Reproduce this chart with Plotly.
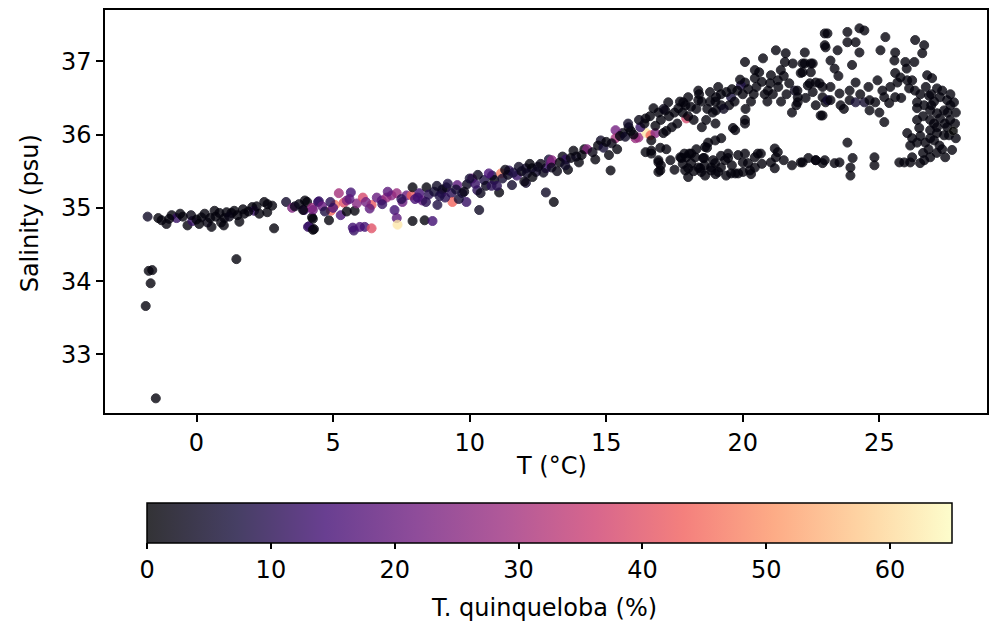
import plotly.graph_objects as go
import plotly.colors as pc

# ---------------- data (T in °C, S in psu, Q = T. quinqueloba %) ----------------
polar_T = [-1.86, -1.75, -1.62, -1.68, -1.49, 1.46, -1.79, -1.28, -0.91, -0.73, -0.33, -0.15, 0.18, 0.55, 0.66,
           0.84, 1.02, 1.28, 1.38, 1.57, 1.75, 2.04, 2.11, 2.48, 2.59, 2.77, 2.84,
           -1.0, -0.5, -0.2, 0.0, 0.3, 0.4, 0.7, 0.9, 1.1, 1.2, 1.5, 1.9, 2.2, 2.3, -1.1, 0.1,
           -0.6, 0.5, 1.7, 2.6, 1.0, -1.4]
polar_S = [33.66, 34.14, 34.15, 33.97, 32.40, 34.30, 34.88, 34.83, 34.90, 34.86, 34.76, 34.82, 34.87, 34.74, 34.96,
           34.93, 34.86, 34.93, 34.96, 34.81, 34.92, 35.01, 34.96, 35.08, 34.94, 35.03, 34.72,
           34.85, 34.88, 34.90, 34.84, 34.92, 34.80, 34.88, 34.80, 34.94, 34.88, 34.90, 34.95, 35.02, 34.92, 34.78, 34.78,
           34.92, 34.86, 34.98, 35.05, 34.76, 34.86]
polar_Q = [1, 1, 1, 1, 1, 1, 4, 1, 1, 12, 1, 12, 1, 1, 1,
           1, 1, 1, 1, 1, 1, 1, 12, 1, 1, 1, 1,
           1, 1, 2, 1, 1, 2, 1, 1, 1, 2, 1, 1, 1, 1, 1, 1,
           1, 1, 1, 1, 1, 1]

subpolar_T = [3.28, 3.50, 3.75, 3.94, 4.05, 4.23, 4.23, 4.12, 4.30, 4.48, 3.90, 3.97, 4.26, 4.45, 4.26, 4.08, 4.26,
              4.85, 4.92, 5.07, 5.21, 5.28, 5.39, 5.65, 5.76, 5.79, 5.50, 5.87, 6.09, 6.41, 6.34, 6.60, 6.78, 6.96,
              7.14, 7.33, 7.25, 7.33, 7.36, 5.72, 5.98, 6.16, 6.41, 7.54, 7.69, 7.87, 7.91, 7.91, 8.16, 8.27, 8.35,
              8.42, 8.64, 8.82, 8.97, 9.15, 9.33, 9.37, 9.55, 9.73, 9.88, 10.09, 10.35, 10.28, 10.53, 10.82, 11.08,
              11.15, 11.44, 11.73, 12.06, 12.28, 12.43, 12.79, 12.79, 13.08, 11.55, 12.06,
              8.5, 8.7, 9.0, 9.5, 9.9, 10.2, 10.6, 10.9, 11.2, 11.4, 11.6, 11.9, 12.1, 12.5, 10.7, 9.1, 8.0, 8.4,
              10.4, 9.6, 11.0, 4.6, 4.7, 5.0, 5.5, 6.2, 6.8, 7.0, 7.5, 8.1, 8.9, 3.6, 4.9, 5.6,
              8.8, 9.2, 9.8, 10.0, 10.3, 10.8, 11.3, 11.8, 12.2, 12.7, 13.4, 14.2, 14.8, 15.6, 13.6, 12.9]
subpolar_S = [35.08, 35.00, 35.05, 34.97, 35.08, 35.00, 34.87, 34.75, 34.71, 35.09, 34.97, 35.10, 34.97, 35.08, 34.85, 34.74, 34.70,
              34.83, 34.96, 35.04, 35.20, 34.90, 35.07, 35.21, 34.69, 34.96, 34.95, 35.06, 35.14, 35.04, 34.99, 35.14, 35.10, 35.14,
              35.17, 35.20, 34.97, 34.86, 34.77, 34.73, 34.74, 34.74, 34.72, 35.08, 35.17, 35.17, 35.28, 34.82, 35.20, 35.10, 34.83,
              35.28, 34.82, 35.04, 35.20, 35.28, 35.20, 35.08, 35.31, 35.20, 35.08, 35.40, 34.97, 35.24, 35.38, 35.44, 35.21,
              35.47, 35.51, 35.44, 35.54, 35.54, 35.49, 35.21, 35.54, 35.08, 35.31, 35.34,
              35.18, 35.22, 35.25, 35.25, 35.32, 35.33, 35.30, 35.38, 35.40, 35.45, 35.48, 35.50, 35.47, 35.56, 35.47, 35.14, 35.12, 35.08,
              35.20, 35.12, 35.30, 35.02, 34.95, 35.00, 35.10, 35.08, 35.05, 35.22, 35.12, 35.14, 35.16, 35.02, 35.08, 35.12,
              35.30, 35.33, 35.22, 35.40, 35.45, 35.30, 35.52, 35.56, 35.60, 35.48, 35.70, 35.80, 35.92, 36.02, 35.52, 35.66]
subpolar_Q = [5, 24, 2, 14, 1, 28, 1, 12, 1, 12, 1, 1, 22, 12, 1, 12, 1,
              1, 44, 47, 30, 15, 40, 14, 12, 1, 1, 25, 38, 42, 18, 20, 18, 28,
              25, 28, 14, 18, 62, 14, 15, 14, 40, 20, 20, 43, 1, 1, 14, 18, 1,
              1, 14, 8, 14, 1, 10, 44, 18, 8, 12, 22, 4, 10, 8, 8, 1,
              48, 10, 12, 5, 1, 5, 4, 12, 1, 5, 5,
              10, 6, 3, 6, 3, 12, 3, 2, 6, 3, 8, 2, 4, 3, 15, 10, 15, 10,
              3, 6, 10, 20, 8, 16, 25, 22, 12, 18, 10, 14, 8, 3, 10, 18,
              4, 8, 2, 6, 3, 10, 2, 4, 1, 3, 2, 1, 4, 2, 1, 6]

transition_T = [12.97, 13.01, 13.52, 14.30, 15.16, 15.34, 15.34, 16.07, 15.82, 16.18, 16.47, 16.62, 16.80, 16.25,
                16.65, 16.44, 17.93, 17.09, 16.44, 16.91, 16.98,
                12.6, 13.0, 13.3, 13.5, 13.7, 13.9, 14.1, 14.5, 14.7, 14.9, 15.0, 15.2, 15.5, 15.7, 15.9, 14.0,
                13.2, 15.4, 14.6, 12.3, 12.0, 13.8, 15.1]
transition_S = [35.61, 35.65, 35.66, 35.80, 35.51, 36.06, 35.95, 35.95, 36.10, 35.96, 36.02, 35.99, 36.02, 36.10,
                35.92, 36.22, 36.22, 36.02, 35.76, 35.65, 35.51,
                35.60, 35.55, 35.62, 35.58, 35.68, 35.70, 35.72, 35.76, 35.85, 35.82, 35.90, 35.88, 35.98, 35.97, 36.05, 35.62,
                35.50, 35.80, 35.66, 35.42, 35.36, 35.78, 35.72]
transition_Q = [20, 25, 12, 25, 1, 22, 30, 28, 1, 28, 62, 45, 25, 12,
                1, 1, 38, 1, 1, 1, 1,
                2, 3, 1, 4, 1, 3, 1, 2, 1, 6, 1, 2, 1, 4, 1, 1,
                2, 1, 1, 1, 2, 1, 1]

subtrop_T = [20.08, 20.74, 21.21, 21.57, 21.54, 21.83, 22.19, 22.56, 23.00, 23.00, 22.12, 22.45, 22.81, 22.92, 23.03,
             22.85, 22.01, 22.01, 21.03, 20.92, 21.39, 21.28, 20.44, 20.08, 19.93, 19.57, 19.02, 18.80, 18.37, 18.37,
             18.00, 17.82, 17.64, 17.27, 17.16, 16.91, 16.73, 18.66, 19.02, 19.21, 20.44,
             20.08, 19.64, 19.21, 18.99, 18.73, 18.62, 18.26, 17.93, 17.75, 17.35, 16.91, 16.65, 18.00, 18.44, 18.55,
             18.91, 19.10, 19.39, 19.72, 19.83, 20.01, 20.44, 20.44, 21.17, 21.21, 22.12, 22.67, 23.00, 20.66, 18.62,
             18.84, 19.46, 17.89, 18.00, 18.37, 18.84, 19.35, 19.57, 20.08, 17.71, 18.11, 19.72, 20.08,
             16.91, 17.86, 18.04, 18.59, 18.69, 19.20, 19.46, 20.55, 21.28, 21.03, 21.17, 23.36, 18.48, 19.83, 20.26,
             18.11, 18.99, 20.19, 16.65, 16.98,
             17.0, 17.3, 17.5, 17.8, 18.1, 18.3, 18.5, 18.8, 19.0, 19.2, 19.4, 19.6, 19.8, 20.0, 20.2, 20.5, 20.7,
             21.0, 21.3, 21.5, 17.6, 18.2, 16.8, 16.4, 19.5, 20.3, 18.9, 17.9, 20.8, 21.6]
subtrop_S = [36.99, 37.04, 37.15, 37.11, 36.99, 36.97, 36.97, 36.97, 37.38, 37.22, 36.84, 36.70, 36.70, 36.51, 36.44,
             36.26, 36.44, 36.51, 36.81, 36.60, 36.88, 36.74, 36.77, 36.71, 36.67, 36.51, 36.51, 36.58, 36.60, 36.47,
             36.51, 36.44, 36.36, 36.44, 36.33, 36.30, 36.36, 36.20, 36.33, 36.40, 36.88,
             36.20, 36.09, 35.95, 35.92, 35.89, 35.83, 35.69, 35.69, 35.68, 35.65, 35.49, 35.74, 35.54, 35.54, 35.68,
             35.65, 35.49, 35.44, 35.47, 35.72, 35.49, 35.55, 35.69, 35.81, 35.69, 35.62, 35.65, 35.65, 35.74, 35.44,
             35.55, 35.74, 35.51, 35.42, 35.55, 35.51, 35.65, 35.47, 35.74, 35.69, 35.74, 36.06, 36.15,
             35.62, 35.74, 35.74, 35.68, 35.82, 35.71, 35.68, 35.74, 35.76, 35.62, 35.54, 35.61, 35.49, 35.47, 35.51,
             35.61, 35.61, 35.61, 35.78, 35.82,
             36.20, 36.25, 36.30, 36.30, 36.38, 36.35, 36.45, 36.45, 36.45, 36.55, 36.58, 36.62, 36.60, 36.55, 36.62, 36.65, 36.72,
             36.70, 36.65, 36.80, 36.15, 36.20, 36.12, 36.15, 36.40, 36.45, 36.30, 36.40, 36.55, 36.55]
subtrop_Q = [1] * 24 + [8, 7] + [1] * 54 + [1] * 3 + [1] * 5 + [1] * 5 + [1] * 10 + [1] * 30

band_extra_T = [16.6, 17.1, 17.4, 17.7, 18.0, 18.4, 18.7, 19.1, 19.3, 19.7, 19.9, 20.1, 20.4, 20.6, 20.9, 21.1,
                21.4, 21.7, 21.9, 16.2, 15.8, 16.0, 17.2, 18.5, 19.0,
                17.0, 17.5, 17.8, 18.2, 18.6, 19.0, 19.2, 19.6, 20.0, 20.3, 20.7, 21.5, 21.8, 22.4, 17.2, 18.3]
band_extra_S = [36.25, 36.35, 36.10, 36.45, 36.25, 36.55, 36.35, 36.65, 36.35, 36.45, 36.75, 36.35, 36.55, 36.85, 36.45, 36.55,
                36.45, 36.70, 36.60, 36.20, 36.15, 36.00, 36.05, 36.10, 36.15,
                35.58, 35.52, 35.60, 35.50, 35.58, 35.46, 35.55, 35.58, 35.62, 35.46, 35.60, 35.65, 35.58, 35.68, 35.80, 35.80]
band_extra_Q = [1, 1, 2, 1, 1, 1, 1, 1, 1, 3, 1, 1, 1, 1, 1, 1,
                1, 1, 1, 3, 2, 4, 1, 1, 1,
                1, 1, 1, 1, 1, 1, 1, 1, 1, 1, 1, 1, 1, 1, 1, 1]

tropic_T = [23.10, 23.83, 24.27, 24.45, 23.83, 24.13, 23.03, 23.47, 24.27, 25.04, 25.22, 25.58, 26.31, 26.64, 26.57,
            26.28, 25.55, 25.95, 22.27, 22.27, 22.49, 22.49, 22.19, 23.21, 23.36, 22.38, 22.67, 22.92, 23.21, 23.54,
            22.56, 23.10, 23.21, 23.91, 24.13, 23.91, 24.13, 24.45, 24.64, 24.64, 24.93, 25.11, 24.85, 25.18, 25.36,
            25.58, 23.58, 22.67, 21.96, 22.92, 25.18, 23.83, 25.58, 25.77, 26.02, 26.20, 26.09, 25.66,
            26.75, 26.93, 27.11, 26.82, 27.22, 27.48, 27.73, 26.38, 26.38, 26.64, 26.86, 27.11, 27.37, 27.59, 27.77,
            26.86, 27.22, 27.48, 27.11, 26.86, 26.38, 26.46, 26.02, 26.20, 27.11, 27.37, 27.55, 26.86, 27.00, 26.68,
            26.38, 26.13, 27.66, 27.41, 26.86, 26.64, 26.49, 26.20, 26.13, 25.73, 25.91, 24.82, 24.82, 24.02, 23.94,
            23.94, 23.54, 22.92, 22.67, 22.19,
            26.5, 26.7, 27.0, 27.3, 27.5, 26.6, 27.0, 27.2, 26.9, 27.6, 26.5, 27.4, 26.8, 27.1, 26.3,
            22.0, 22.3, 21.8, 23.5, 24.0, 24.6, 25.0, 25.4, 24.3, 23.7, 26.0, 25.8,
            27.8, 27.8, 27.6, 26.6, 27.3, 26.9, 27.7]
tropic_S = [37.38, 37.40, 37.45, 37.42, 37.26, 37.26, 37.19, 37.15, 37.12, 37.15, 37.33, 37.12, 37.29, 37.22, 37.11,
            36.99, 37.01, 36.99, 37.12, 36.97, 36.97, 36.85, 36.85, 37.01, 36.90, 36.67, 36.71, 36.65, 36.65, 36.56,
            36.58, 36.47, 36.47, 36.60, 36.71, 36.47, 36.44, 36.44, 36.47, 36.33, 36.74, 36.60, 36.44, 36.51, 36.43,
            36.51, 36.40, 36.40, 36.40, 36.26, 36.17, 35.89, 36.84, 36.78, 36.74, 36.74, 36.63, 36.71,
            36.81, 36.77, 36.63, 36.53, 36.51, 36.47, 36.44, 36.44, 36.36, 36.40, 36.33, 36.29, 36.33, 36.20, 36.15,
            36.20, 36.22, 36.10, 36.10, 36.06, 36.20, 36.09, 36.02, 35.95, 36.02, 35.99, 35.99, 35.95, 35.92, 35.89,
            35.89, 35.85, 35.79, 35.69, 35.69, 35.65, 35.61, 35.69, 35.62, 35.62, 35.62, 35.69, 35.58, 35.68, 35.55,
            35.44, 35.62, 35.61, 35.65, 35.62,
            36.55, 36.65, 36.45, 36.60, 36.30, 36.25, 36.15, 35.85, 36.40, 36.40, 35.98, 36.15, 35.80, 35.75, 36.60,
            36.60, 36.50, 36.30, 36.80, 36.95, 36.65, 36.30, 36.65, 36.55, 36.35, 36.90, 36.50,
            36.30, 35.95, 36.55, 35.75, 35.80, 36.55, 36.05]
tropic_Q = [1] * 32 + [6] + [1] * 4 + [6, 5] + [1] * 19 + [1] * 50 + [1] * 15 + [1] * 12 + [1] * 7

temp = polar_T + subpolar_T + transition_T + subtrop_T + band_extra_T + tropic_T
sal = polar_S + subpolar_S + transition_S + subtrop_S + band_extra_S + tropic_S
quin = polar_Q + subpolar_Q + transition_Q + subtrop_Q + band_extra_Q + tropic_Q

x_ticks = [0, 5, 10, 15, 20, 25]
y_ticks = [33, 34, 35, 36, 37]
cbar_ticks = [0, 10, 20, 30, 40, 50, 60]
Q_MAX = 65

# ---------------- styling ----------------
FONT = "DejaVu Sans"
FS = 24
magma = pc.sequential.Magma


def blend(hexcol, a=0.8):
    r, g, b = pc.hex_to_rgb(hexcol)
    f = lambda c: int(round(a * c + (1 - a) * 255))
    return f"rgb({f(r)},{f(g)},{f(b)})"


n = len(magma)
bar_scale = [[i / (n - 1), blend(c)] for i, c in enumerate(magma)]

fig = go.Figure()
fig.add_trace(go.Scatter(
    x=temp, y=sal, mode="markers",
    marker=dict(size=9, color=quin, colorscale="Magma", cmin=0, cmax=Q_MAX, opacity=0.8,
                line=dict(width=1, color=quin, colorscale="Magma", cmin=0, cmax=Q_MAX),
                showscale=False),
    showlegend=False, hoverinfo="skip"))

# colour bar (drawn with the same 0.8 alpha look as the reference)
fig.add_trace(go.Scatter(
    x=[None], y=[None], mode="markers",
    marker=dict(size=0, color=[0], colorscale=bar_scale, cmin=0, cmax=Q_MAX, showscale=True,
                colorbar=dict(orientation="h", lenmode="pixels", len=805, thicknessmode="pixels",
                              thickness=40, x=0.504, xanchor="center", y=-0.2233, yanchor="top",
                              xpad=0, ypad=0, outlinewidth=1.5, outlinecolor="black",
                              tickvals=cbar_ticks, ticks="outside", ticklen=6, tickwidth=1.5,
                              tickcolor="black", tickfont=dict(family=FONT, size=FS, color="black"))),
    showlegend=False, hoverinfo="skip"))

axis_common = dict(showgrid=False, zeroline=False, ticks="outside", ticklen=7, tickwidth=1.5,
                   tickcolor="black", showline=True, linecolor="black", linewidth=1.5, mirror=True,
                   tickfont=dict(family=FONT, size=FS, color="black"))

fig.update_layout(
    width=991, height=630,
    margin=dict(l=105, r=2, t=10, b=217),
    paper_bgcolor="white", plot_bgcolor="white",
    xaxis=dict(range=[-3.35, 28.94], tickvals=x_ticks, **axis_common),
    yaxis=dict(range=[32.2, 37.7], tickvals=y_ticks, **axis_common),
    font=dict(family=FONT, size=FS, color="black"),
    annotations=[
        dict(text="T (°C)", x=0.506, y=-0.1315, xref="paper", yref="paper", showarrow=False,
             xanchor="center", yanchor="middle", font=dict(family=FONT, size=FS, color="black")),
        dict(text="Salinity (psu)", x=-0.0848, y=0.496, xref="paper", yref="paper", showarrow=False,
             textangle=-90, xanchor="center", yanchor="middle",
             font=dict(family=FONT, size=FS, color="black")),
        dict(text="T. quinqueloba (%)", x=0.498, y=-0.4839, xref="paper", yref="paper", showarrow=False,
             xanchor="center", yanchor="middle", font=dict(family=FONT, size=FS, color="black")),
    ],
)

fig.write_html("out.html")
